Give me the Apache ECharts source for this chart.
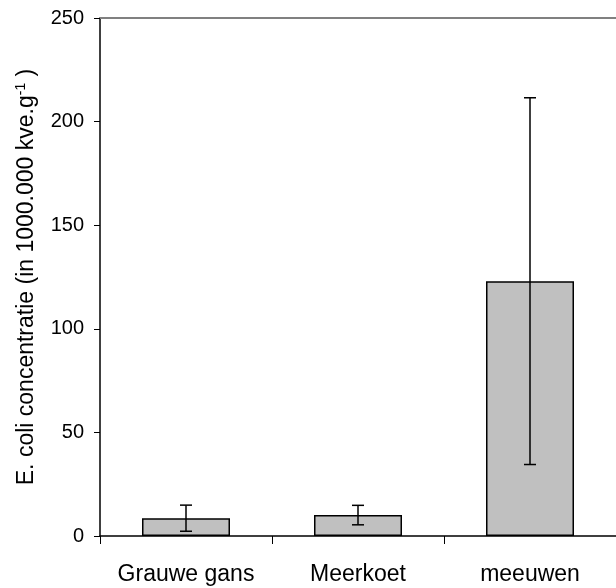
<!DOCTYPE html>
<html>
<head>
<meta charset="utf-8">
<script src="https://cdn.jsdelivr.net/npm/echarts@6/dist/echarts.min.js"></script>
<style>
html,body{margin:0;padding:0;background:#fff;}
#chart{width:616px;height:588px;}
</style>
</head>
<body>
<div id="chart"></div>
<script>
var categories = ['Grauwe gans', 'Meerkoet', 'meeuwen'];
var means = [8.6, 10.1, 123];
var errors = [6.3, 4.7, 88.5];
var yTicks = [0, 50, 100, 150, 200, 250];

var errData = categories.map(function (c, i) { return [i, means[i], errors[i]]; });

var chart = echarts.init(document.getElementById('chart'));
chart.setOption({
  animation: false,
  backgroundColor: '#ffffff',
  textStyle: { fontFamily: 'Liberation Sans, Arial, sans-serif', color: '#000' },
  grid: { left: 100, top: 18, width: 521, height: 518, containLabel: false },
  xAxis: [{
    type: 'category',
    data: categories,
    boundaryGap: true,
    axisLine: { show: true, onZero: true, lineStyle: { color: '#000', width: 1.5 } },
    axisTick: { show: true, length: 8, alignWithLabel: false, interval: 0, lineStyle: { color: '#000', width: 1 } },
    axisLabel: { fontSize: 23, color: '#000', margin: 27, interval: 0, fontFamily: 'Liberation Sans' },
    splitLine: { show: false }
  }, {
    type: 'category',
    data: categories,
    position: 'top',
    axisLine: { show: true, lineStyle: { color: '#808080', width: 2 } },
    axisTick: { show: false },
    axisLabel: { show: false },
    splitLine: { show: false }
  }],
  yAxis: {
    type: 'value',
    min: yTicks[0],
    max: yTicks[yTicks.length - 1],
    interval: 50,
    axisLine: { show: true, lineStyle: { color: '#000', width: 1.5 } },
    axisTick: { show: true, length: 6, lineStyle: { color: '#000', width: 1 } },
    axisLabel: { fontSize: 20, color: '#000', margin: 16, fontFamily: 'Liberation Sans' },
    splitLine: { show: false },
    name: 'E. coli concentratie (in 1000.000 kve.g{sup|-1}\u00a0)',
    nameLocation: 'middle',
    nameGap: 61,
    nameTextStyle: {
      fontSize: 23, color: '#000', fontFamily: 'Liberation Sans',
      rich: { sup: { fontSize: 14, color: '#000', fontFamily: 'Liberation Sans', verticalAlign: 'bottom', padding: [0, 0, 11, 0] } }
    }
  },
  series: [{
    type: 'bar',
    data: means,
    barWidth: 88,
    itemStyle: { color: '#C0C0C0', borderColor: '#000', borderWidth: 1.5 },
    z: 2
  }, {
    type: 'custom',
    data: errData,
    z: 5,
    encode: { x: 0, y: 1 },
    renderItem: function (params, api) {
      var i = api.value(0), m = api.value(1), e = api.value(2);
      var top = api.coord([i, m + e]);
      var bot = api.coord([i, m - e]);
      var hw = 6;
      var style = { stroke: '#000', lineWidth: 1.5 };
      return {
        type: 'group',
        children: [
          { type: 'line', shape: { x1: top[0], y1: top[1], x2: bot[0], y2: bot[1] }, style: style },
          { type: 'line', shape: { x1: top[0] - hw, y1: top[1], x2: top[0] + hw, y2: top[1] }, style: style },
          { type: 'line', shape: { x1: bot[0] - hw, y1: bot[1], x2: bot[0] + hw, y2: bot[1] }, style: style }
        ]
      };
    }
  }]
});
</script>
</body>
</html>
